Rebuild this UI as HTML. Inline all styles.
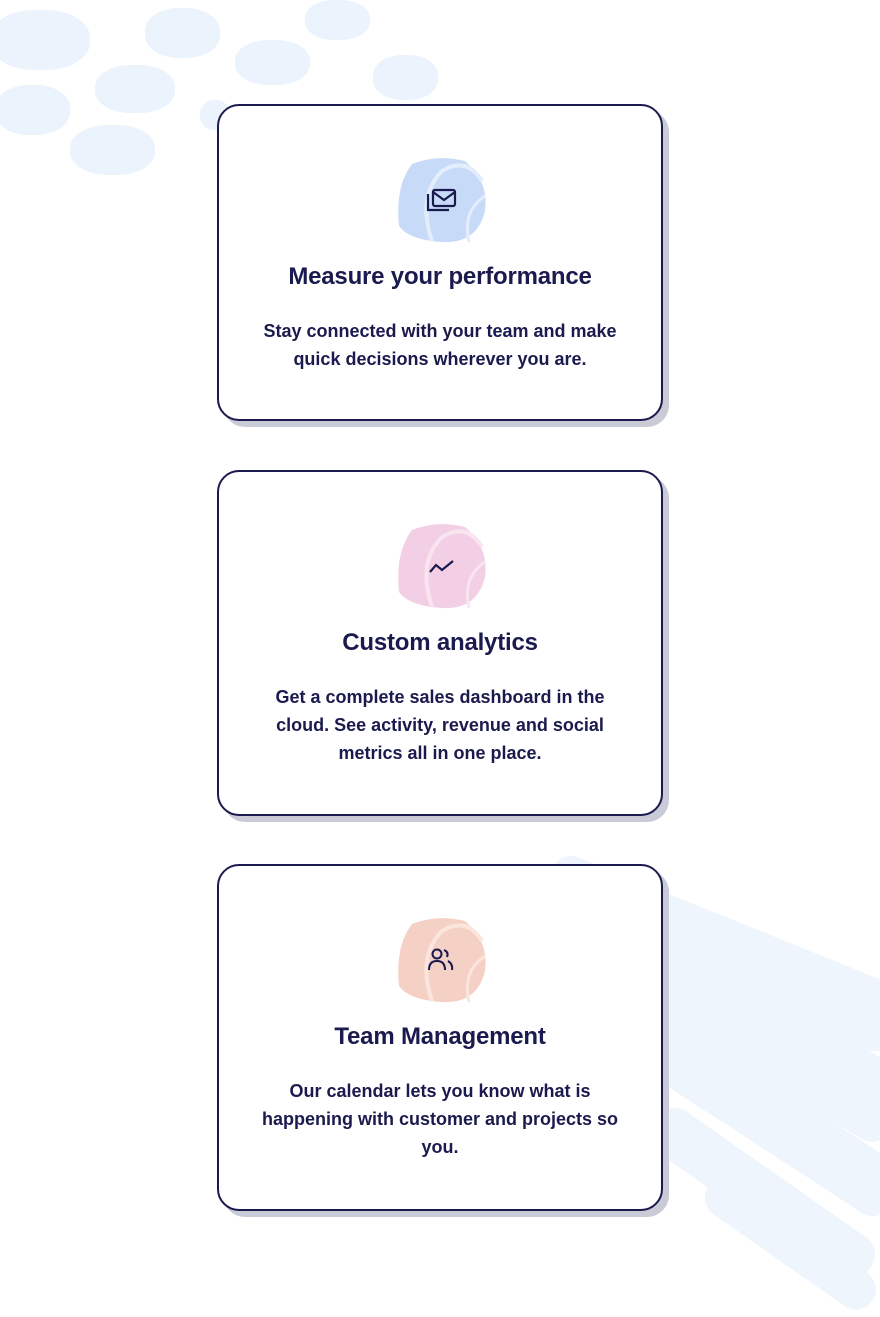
<!DOCTYPE html>
<html><head><style>
body{margin:0;width:880px;height:1314px;background:#fff;position:relative;overflow:hidden;font-family:"Liberation Sans",sans-serif;color:#1a1a4e}
.bg{position:absolute;background:#ebf3fc;border-radius:45%}
.card{position:absolute;left:217px;width:442px;background:#fff;border:2px solid #1a1a4e;border-radius:22px;box-shadow:6px 6px 0 #c9cbd6;text-align:center}
.blob{position:absolute;left:178px;width:90px;height:88px}
h2{position:absolute;left:0;right:0;margin:0;font-size:24px;font-weight:bold;letter-spacing:-0.2px}
p{position:absolute;left:36px;right:36px;margin:0;font-size:18px;font-weight:bold;line-height:28px}
.st{position:absolute;background:#eef5fd;border-radius:20px}
</style></head><body>
<div class="bg" style="left:-10px;top:10px;width:100px;height:60px"></div>
<div class="bg" style="left:145px;top:8px;width:75px;height:50px"></div>
<div class="bg" style="left:235px;top:40px;width:75px;height:45px"></div>
<div class="bg" style="left:305px;top:0;width:65px;height:40px"></div>
<div class="bg" style="left:95px;top:65px;width:80px;height:48px"></div>
<div class="bg" style="left:373px;top:55px;width:65px;height:45px"></div>
<div class="bg" style="left:-5px;top:85px;width:75px;height:50px"></div>
<div class="bg" style="left:70px;top:125px;width:85px;height:50px"></div>
<div class="bg" style="left:200px;top:100px;width:30px;height:30px"></div>
<div class="st" style="left:560px;top:850px;width:380px;height:70px;transform:rotate(22deg);transform-origin:0 0"></div>
<div class="st" style="left:660px;top:930px;width:300px;height:80px;transform:rotate(30deg);transform-origin:0 0"></div>
<div class="st" style="left:660px;top:1010px;width:300px;height:60px;transform:rotate(33deg);transform-origin:0 0"></div>
<div class="st" style="left:670px;top:1100px;width:260px;height:50px;transform:rotate(35deg);transform-origin:0 0"></div>
<div class="st" style="left:720px;top:1170px;width:200px;height:40px;transform:rotate(35deg);transform-origin:0 0"></div>

<div class="card" style="top:104px;height:313px">
 <svg class="blob" style="top:50px" viewBox="0 0 90 88"><path d="M15 8 Q40 -2 68 5 Q92 25 88 55 Q80 88 45 86 Q12 84 2 70 Q-2 30 15 8Z" fill="#c7dbf8"/><path d="M35 85 Q20 40 45 15 Q70 0 85 25" stroke="#e3edfc" stroke-width="4" fill="none"/><path d="M72 86 Q65 55 88 40" stroke="#e3edfc" stroke-width="3" fill="none"/>
 <g stroke="#1a1a4e" stroke-width="2.2" fill="none"><rect x="36" y="34" width="22" height="16" rx="2"/><path d="M36 36 L47 44 L58 36"/><path d="M31 38 V54 H52"/></g></svg>
 <h2 style="top:157px">Measure your performance</h2>
 <p style="top:211px">Stay connected with your team and make quick decisions wherever you are.</p>
</div>

<div class="card" style="top:470px;height:342px">
 <svg class="blob" style="top:50px" viewBox="0 0 90 88"><path d="M15 8 Q40 -2 68 5 Q92 25 88 55 Q80 88 45 86 Q12 84 2 70 Q-2 30 15 8Z" fill="#f2cfe5"/><path d="M35 85 Q20 40 45 15 Q70 0 85 25" stroke="#f9e4f0" stroke-width="4" fill="none"/><path d="M72 86 Q65 55 88 40" stroke="#f9e4f0" stroke-width="3" fill="none"/>
 <path d="M33 50 L39 43 L45 48 L56 39" stroke="#1a1a4e" stroke-width="2.2" fill="none"/></svg>
 <h2 style="top:157px">Custom analytics</h2>
 <p style="top:211px">Get a complete sales dashboard in the cloud. See activity, revenue and social metrics all in one place.</p>
</div>

<div class="card" style="top:864px;height:343px">
 <svg class="blob" style="top:50px" viewBox="0 0 90 88"><path d="M15 8 Q40 -2 68 5 Q92 25 88 55 Q80 88 45 86 Q12 84 2 70 Q-2 30 15 8Z" fill="#f5d0c5"/><path d="M35 85 Q20 40 45 15 Q70 0 85 25" stroke="#fbe5dd" stroke-width="4" fill="none"/><path d="M72 86 Q65 55 88 40" stroke="#fbe5dd" stroke-width="3" fill="none"/>
 <g stroke="#1a1a4e" stroke-width="2" fill="none"><circle cx="40" cy="38" r="4.5"/><path d="M32 54 Q32 45 40 45 Q48 45 48 54"/><path d="M47 34 Q52 36 50 41"/><path d="M51 45 Q56 48 55 54"/></g></svg>
 <h2 style="top:157px">Team Management</h2>
 <p style="top:211px">Our calendar lets you know what is happening with customer and projects so you.</p>
</div>
</body></html>
